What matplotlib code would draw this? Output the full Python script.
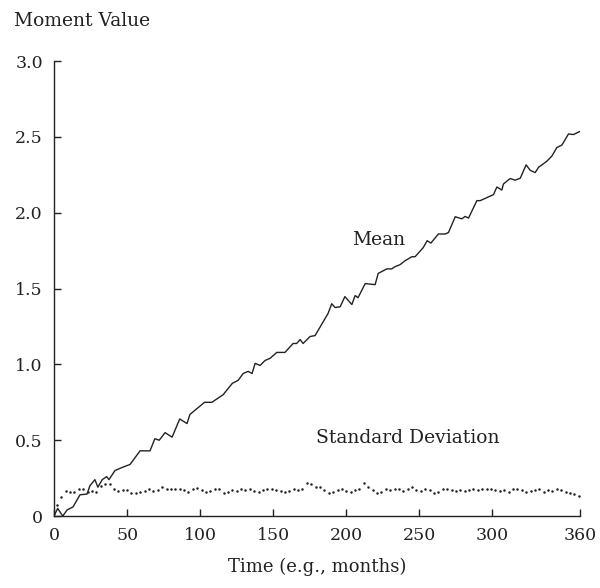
import numpy as np
import matplotlib.pyplot as plt

#----------------data----------------#
mean_months = [0, 2.5, 6, 9, 13, 17.8, 22.6, 24.6, 28, 30, 33, 36, 37.6, 41.7, 46.5, 52,
               58.9, 65.7, 69, 72, 76, 80.8, 86, 91, 93, 103, 108, 115.7, 122, 126, 129.4,
               132.8, 135.5, 137.6, 141, 144.4, 147.8, 152.4, 158, 163.6, 166, 168.4, 170.4,
               175.2, 178.6, 187.5, 190, 192.3, 195.8, 199, 203.8, 206, 208, 212.9, 219.7,
               221.8, 227.7, 231, 233.4, 236.8, 240.2, 244.8, 247, 252.6, 255.3, 257.8, 263,
               267.6, 269.9, 274.5, 279, 281.3, 283.6, 289.3, 291.6, 300.7, 303, 306.4, 307.5,
               312.1, 315.5, 319, 323, 325.8, 329.2, 331.5, 337.2, 340.7, 344, 347.5, 352,
               355.4, 359.5]
mean_values = [0.0, 0.05, 0.0, 0.04, 0.06, 0.14, 0.145, 0.20, 0.24, 0.19, 0.24, 0.26, 0.24,
               0.30, 0.32, 0.34, 0.43, 0.43, 0.51, 0.50, 0.55, 0.52, 0.64, 0.61, 0.67, 0.75,
               0.75, 0.80, 0.875, 0.895, 0.94, 0.954, 0.94, 1.007, 0.993, 1.026, 1.04, 1.079,
               1.079, 1.138, 1.138, 1.164, 1.138, 1.184, 1.19, 1.336, 1.40, 1.375, 1.38, 1.447,
               1.395, 1.454, 1.44, 1.533, 1.526, 1.60, 1.63, 1.63, 1.645, 1.658, 1.684, 1.71,
               1.71, 1.77, 1.816, 1.80, 1.86, 1.86, 1.87, 1.974, 1.96, 1.976, 1.965, 2.08,
               2.08, 2.12, 2.17, 2.15, 2.19, 2.226, 2.215, 2.228, 2.316, 2.28, 2.265, 2.30,
               2.34, 2.375, 2.43, 2.447, 2.52, 2.516, 2.535]

sd_months = list(range(2, 361, 3))
sd_values = [0.07, 0.125, 0.166, 0.16, 0.16, 0.178, 0.175, 0.16, 0.166, 0.156, 0.20, 0.21,
             0.21, 0.18, 0.164, 0.17, 0.17, 0.153, 0.15, 0.16, 0.166, 0.178, 0.166, 0.17,
             0.19, 0.18, 0.178, 0.178, 0.178, 0.17, 0.16, 0.175, 0.185, 0.17, 0.16, 0.165,
             0.18, 0.175, 0.15, 0.16, 0.17, 0.168, 0.18, 0.17, 0.175, 0.165, 0.16, 0.17,
             0.175, 0.18, 0.17, 0.168, 0.16, 0.165, 0.175, 0.17, 0.178, 0.22, 0.21, 0.19,
             0.19, 0.17, 0.153, 0.16, 0.17, 0.175, 0.165, 0.16, 0.17, 0.18, 0.22, 0.19,
             0.17, 0.15, 0.16, 0.175, 0.17, 0.18, 0.175, 0.165, 0.18, 0.19, 0.17, 0.165,
             0.175, 0.17, 0.155, 0.16, 0.175, 0.18, 0.17, 0.165, 0.17, 0.165, 0.17, 0.175,
             0.17, 0.18, 0.175, 0.18, 0.17, 0.165, 0.17, 0.16, 0.175, 0.18, 0.17, 0.16,
             0.165, 0.17, 0.175, 0.16, 0.17, 0.165, 0.18, 0.17, 0.16, 0.15, 0.145, 0.13]
sd_months = sd_months[:len(sd_values)]

x_ticks = [0, 50, 100, 150, 200, 250, 300, 360]
y_ticks = [0, 0.5, 1.0, 1.5, 2.0, 2.5, 3.0]
y_tick_labels = ['0', '0.5', '1.0', '1.5', '2.0', '2.5', '3.0']
#---------------------------------------------------------#

plt.rcParams['font.family'] = ['DejaVu Serif']
ink = '#222222'

fig = plt.figure(figsize=(6.0, 5.88), dpi=100)
ax = fig.add_axes([0.09, 0.1224, 0.877, 0.7736])

ax.plot(mean_months, mean_values, '-', color=ink, lw=1.0)
ax.plot(sd_months, sd_values, 'o', color=ink, ms=1.8, mec='none')

ax.set_xlim(0, 360)
ax.set_ylim(0, 3.0)
ax.set_xticks(x_ticks)
ax.set_yticks(y_ticks)
ax.set_yticklabels(y_tick_labels)
ax.tick_params(direction='in', length=5, width=1.0, color=ink,
               labelsize=12.5, labelcolor=ink, pad=8)
for s in ['top', 'right']:
    ax.spines[s].set_visible(False)
for s in ['left', 'bottom']:
    ax.spines[s].set_color(ink)
    ax.spines[s].set_linewidth(1.0)

ax.text(204, 1.79, 'Mean', fontsize=13.5, color=ink)
ax.text(179, 0.48, 'Standard Deviation', fontsize=13.5, color=ink)

fig.text(0.023, 0.965, 'Moment Value', fontsize=13.5, color=ink, va='center')
ax.set_xlabel('Time (e.g., months)', fontsize=13, color=ink, labelpad=10)

fig.savefig('out.png', dpi=100)
